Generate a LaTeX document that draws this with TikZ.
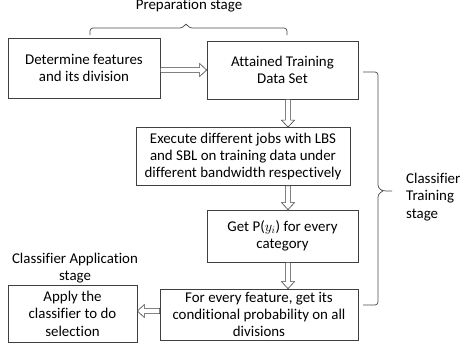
\documentclass[tikz,border=0pt]{standalone}
\usepackage{fontspec}
\setmainfont{Carlito}[Ligatures=NoCommon]
\usetikzlibrary{calc}
\newcommand\diagfont{\fontsize{14.9}{17.4}\selectfont}
\begin{document}
\begin{tikzpicture}[x=1pt,y=-1pt,
  box/.style={draw=black!75, line width=0.7pt, align=center, inner sep=0pt, font=\diagfont, text=black},
  lbl/.style={align=center, inner sep=0pt, font=\diagfont, text=black},
  brc/.style={draw=black!70, line width=0.7pt, rounded corners=3pt},
  blk/.style={draw=black!75, line width=0.6pt, fill=white,
    to path={let \p1=(\tikztostart), \p2=(\tikztotarget),
      \n1={atan2(\y2-\y1,\x2-\x1)}, \n2={veclen(\x2-\x1,\y2-\y1)} in
      ([shift={(\p1)},rotate=\n1]0pt,2.6pt)
      -- ([shift={(\p1)},rotate=\n1]{\n2-7pt},2.6pt)
      -- ([shift={(\p1)},rotate=\n1]{\n2-7pt},6.5pt)
      -- ([shift={(\p1)},rotate=\n1]{\n2*1pt},0pt)
      -- ([shift={(\p1)},rotate=\n1]{\n2-7pt},-6.5pt)
      -- ([shift={(\p1)},rotate=\n1]{\n2-7pt},-2.6pt)
      -- ([shift={(\p1)},rotate=\n1]0pt,-2.6pt) -- cycle}}
]
\useasboundingbox (0,0) rectangle (465,349);

\node[box, minimum width=152pt, minimum height=60pt] (b1) at (84,68) {Determine features\\and its division};
\node[box, minimum width=151pt, minimum height=58pt] (b2) at (282.5,70) {Attained Training\\Data Set};
\node[box, minimum width=214pt, minimum height=58pt] (b3) at (243,156.5) {Execute different jobs with LBS\\and SBL on training data under\\different bandwidth respectively};
\node[box, minimum width=151pt, minimum height=52pt] (b4) at (282.5,236) {Get P($y_i$) for every\\category};
\node[box, minimum width=198pt, minimum height=51pt] (b5) at (259,314.5) {For every feature, get its\\conditional probability on all\\divisions};
\node[box, minimum width=129pt, minimum height=57pt] (b6) at (72.5,313.5) {Apply the\\classifier to do\\selection};

\node[lbl] (prep) at (189,6) {Preparation stage};
\node[lbl] (app) at (75,268) {Classifier Application\\stage};
\node[lbl, align=left, anchor=west] (train) at (406,197) {Classifier\\Training\\stage};

\coordinate (ax) at (288,0);
\coordinate (ay) at (0,311);
\draw[blk] (b1.east |- b2.west) to (b2.west);
\draw[blk] (b2.south -| ax) to (b3.north -| ax);
\draw[blk] (b3.south -| ax) to (b4.north -| ax);
\draw[blk] (b4.south -| ax) to (b5.north -| ax);
\draw[blk] (b5.west |- ay) to (b6.east |- ay);

% braces
\draw[brc] (90,35) -- (90,28) -- (183,28) -- (186,23) -- (189,28) -- (287,28) -- (287,35);
\draw[brc] (363,72) -- (378,72) -- (378,188) -- (383,191) -- (392,191);
\draw[brc] (383,191) -- (378,194) -- (378,305) -- (363,305);
\end{tikzpicture}
\end{document}
